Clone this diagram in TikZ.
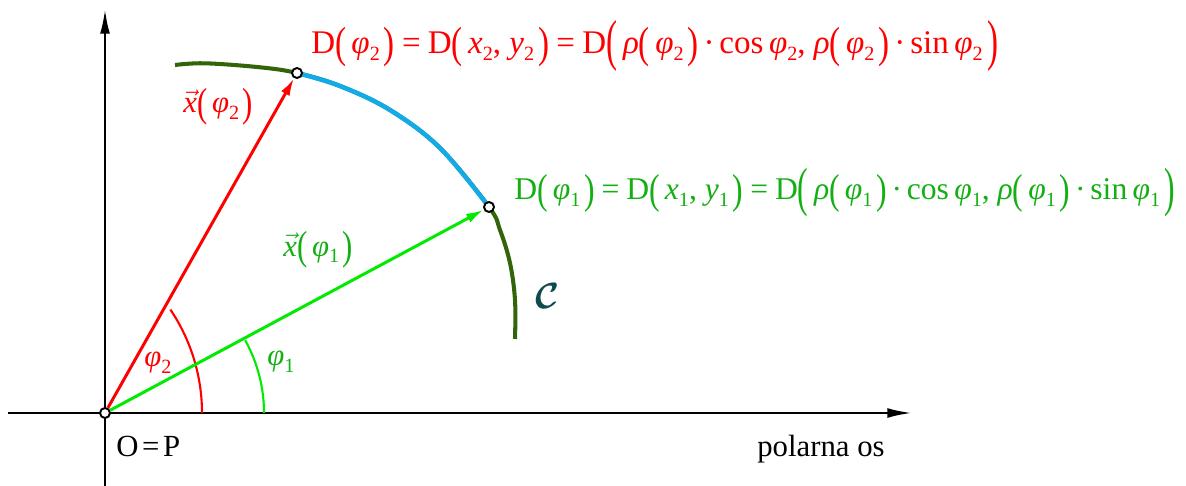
\documentclass[tikz,border=0pt]{standalone}
\usepackage{fontspec}
\setmainfont{Liberation Serif}
\usepackage{graphicx}
\usetikzlibrary{arrows.meta,backgrounds}
\definecolor{vred}{RGB}{255,0,0}
\definecolor{vgreen}{RGB}{0,235,0}
\definecolor{tgreen}{RGB}{20,175,20}
\definecolor{cdark}{RGB}{50,100,10}
\definecolor{cblue}{RGB}{20,170,230}
\definecolor{cteal}{RGB}{15,75,75}
\newcommand\subx[1]{\raisebox{-0.2em}{\fontsize{11.5}{11.5}\selectfont #1}}
\newcommand\phs[1]{\textit{φ}\subx{#1}}
\newcommand\lpA{\raisebox{-0.1em}{\scalebox{1}[1.32]{(}}\hspace{0.16em}}
\newcommand\rpA{\hspace{0.12em}\raisebox{-0.1em}{\scalebox{1}[1.32]{)}}}
\newcommand\lpB{\raisebox{-0.16em}{\scalebox{1}[1.7]{(}}\hspace{0.18em}}
\newcommand\rpB{\hspace{0.14em}\raisebox{-0.16em}{\scalebox{1}[1.7]{)}}}
\newcommand\eqs{\hspace{0.22em}=\hspace{0.22em}}
\newcommand\cdt{\hspace{0.15em}·\hspace{0.15em}}
\newcommand\vx{$\vec{\mbox{\textit{x}}}$}
\newcommand\calC{$\mathcal{C}$}
\begin{document}
\begin{tikzpicture}[x=0.02cm,y=-0.02cm,
  font=\fontsize{17.5}{21}\selectfont,
  pt/.style={circle,draw=black,fill=white,line width=1.1pt,minimum size=0.2cm,inner sep=0pt},
  axis/.style={line width=1.4pt,-{Latex[length=14pt,width=5.6pt]}},
  vec/.style={line width=1.7pt,-{Latex[length=10pt,width=5.5pt]}},
  ang/.style={line width=1.2pt},
  crv/.style={line width=2.3pt},
  lbl/.style={inner sep=0pt,anchor=base west},
  eqn/.style={lbl,font=\fontsize{18}{22}\selectfont}]
\useasboundingbox (0,0) rectangle (1186,486);
\node[pt] (O) at (105,413) {};
\node[pt] (D2) at (297,73) {};
\node[pt] (D1) at (489,207) {};
\coordinate (xs) at (8,413);
\coordinate (xe) at (912,413);
\coordinate (ys) at (105,486);
\coordinate (ye) at (105,9);
\begin{scope}[on background layer]
  \draw[axis] (xs) -- (xe);
  \draw[axis] (ys) -- (ye);
  \draw[crv,cdark] plot[smooth,tension=0.6] coordinates {(175,65) (205,63.3) (260,67.3) (297,73) (340,86) (390,110) (440,148) (489,207) (500,230) (510,263) (515,300) (515,339)};
  \draw[crv,cblue,line width=2.6pt] plot[smooth,tension=0.6] coordinates {(297,73) (340,86) (390,110) (440,148) (489,207)};
  \draw[ang,vred] ([shift={(-34:185)}]17,413) arc[start angle=-34,end angle=0,radius=185];
  \draw[ang,vgreen] ([shift={(-29:150)}]114,413) arc[start angle=-29,end angle=0,radius=150];
\end{scope}
\draw[vec,vred] (O) -- (D2);
\draw[vec,vgreen] (O) -- (D1);
\node[eqn,text=vred,font=\fontsize{18.8}{22}\selectfont] (L2) at (311,54) {D\lpA\phs{2}\rpA\eqs D\lpA\textit{x}\subx{2}, \textit{y}\subx{2}\rpA\eqs D\lpB\textit{ρ}\lpA\phs{2}\rpA\cdt cos\,\phs{2}, \textit{ρ}\lpA\phs{2}\rpA\cdt sin\,\phs{2}\rpB};
\node[eqn,text=tgreen] (L1) at (514,200) {D\lpA\phs{1}\rpA\eqs D\lpA\textit{x}\subx{1}, \textit{y}\subx{1}\rpA\eqs D\lpB\textit{ρ}\lpA\phs{1}\rpA\cdt cos\,\phs{1}, \textit{ρ}\lpA\phs{1}\rpA\cdt sin\,\phs{1}\rpB};
\node[lbl,text=vred] (V2) at (183,113) {\vx\lpA\phs{2}\rpA};
\node[lbl,text=tgreen] (V1) at (283,256) {\vx\lpA\phs{1}\rpA};
\node[text=vred] (A2) at (158,363) {\phs{2}};
\node[text=tgreen] (A1) at (281,362) {\phs{1}};
\node[text=cteal,font=\fontsize{22}{24}\selectfont\boldmath] (C) at (548,296) {\calC};
\node[lbl] (OP) at (116,456) {O\hspace{0.12em}=\hspace{0.12em}P};
\node[lbl] (PO) at (757,456) {polarna os};
\end{tikzpicture}
\end{document}
